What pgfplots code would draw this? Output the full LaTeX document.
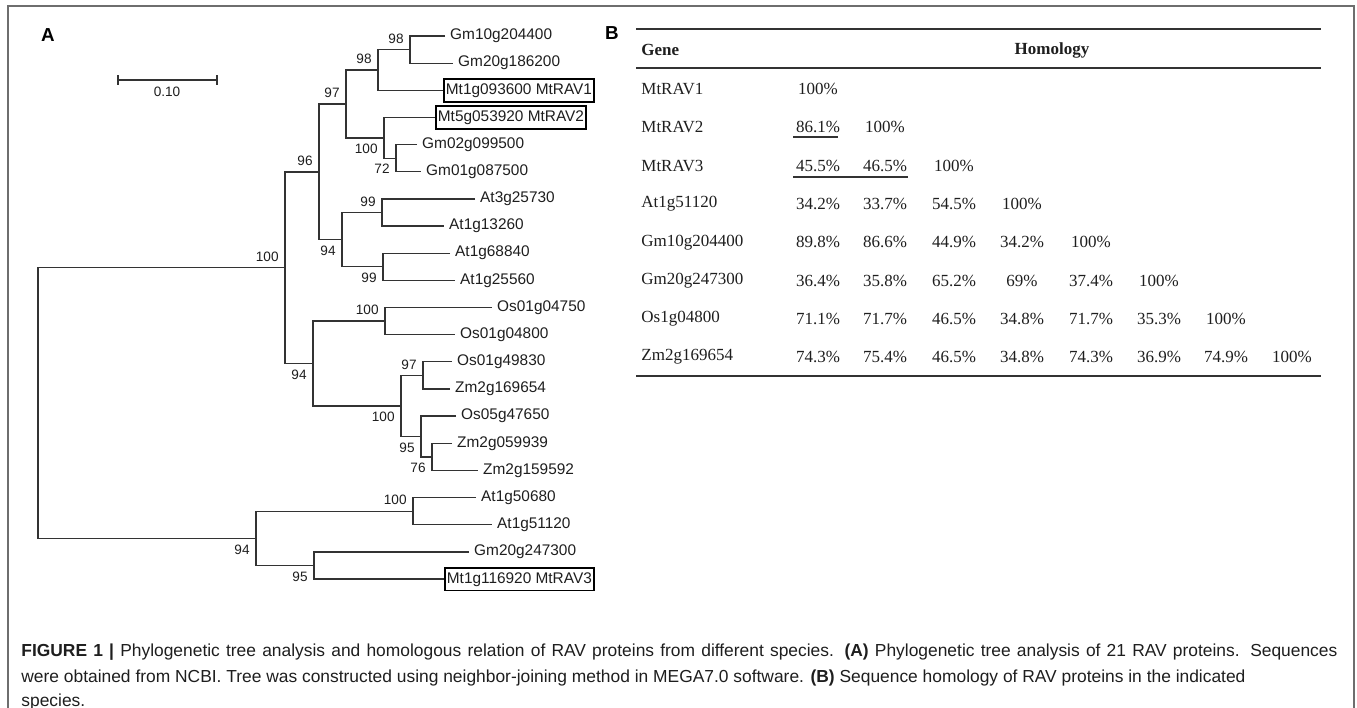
\documentclass[border=0pt]{standalone}
\usepackage{pgfplots}
\pgfplotsset{compat=1.18}
\usepackage{fontspec}
\setmainfont{Liberation Sans}
\newfontfamily\tabfont{Liberation Serif}
\definecolor{treeclr}{HTML}{333333}
\definecolor{txt}{HTML}{1E1E1E}
\definecolor{frameclr}{HTML}{6E6E6E}
\newcommand{\leaffont}{\fontsize{7.7}{9}\selectfont}
\newcommand{\bootfont}{\fontsize{6.8}{8}\selectfont}
\newcommand{\tfont}{\tabfont\fontsize{8.5}{10}\selectfont}
\newcommand{\capfont}{\fontsize{8.7}{10}\selectfont}
\begin{document}
\begin{tikzpicture}
\begin{axis}[
  width=678.5pt, height=354pt, scale only axis,
  xmin=0, xmax=1357, ymin=0, ymax=708, y dir=reverse,
  hide axis, clip=false,
  tree/.style={draw=treeclr, line width=0.65pt, mark=none},
  labels/.style={draw=none, mark=none, nodes near coords, point meta=explicit symbolic},
]
% ---------- frame ----------
\addplot[draw=frameclr, line width=0.7pt, mark=none] coordinates {(8,708) (8,6) (1354,6) (1354,708)};
% ---------- tree brackets ----------
\addplot[tree] coordinates {(285,267.8) (38,267.8) (38,538.4) (256,538.4)};
\addplot[tree] coordinates {(319,171.9) (285,171.9) (285,363.6) (313,363.6)};
\addplot[tree] coordinates {(346,104) (319,104) (319,239.7) (342,239.7)};
\addplot[tree] coordinates {(378,70) (346,70) (346,137.9) (384,137.9)};
\addplot[tree] coordinates {(410,49.6) (378,49.6) (378,90.3) (443,90.3)};
\addplot[tree] coordinates {(445,36) (410,36) (410,63.2) (453,63.2)};
\addplot[tree] coordinates {(435,117.5) (384,117.5) (384,158.2) (396,158.2)};
\addplot[tree] coordinates {(417,144.6) (396,144.6) (396,171.8) (421,171.8)};
\addplot[tree] coordinates {(382,212.5) (342,212.5) (342,266.8) (383,266.8)};
\addplot[tree] coordinates {(475,198.9) (382,198.9) (382,226.1) (444,226.1)};
\addplot[tree] coordinates {(450,253.2) (383,253.2) (383,280.4) (455,280.4)};
\addplot[tree] coordinates {(385,321.1) (313,321.1) (313,406) (401,406)};
\addplot[tree] coordinates {(492,307.5) (385,307.5) (385,334.7) (455,334.7)};
\addplot[tree] coordinates {(423,375.4) (401,375.4) (401,436.5) (421,436.5)};
\addplot[tree] coordinates {(452,361.8) (423,361.8) (423,389) (450,389)};
\addplot[tree] coordinates {(456,416.1) (421,416.1) (421,456.9) (432,456.9)};
\addplot[tree] coordinates {(452,443.3) (432,443.3) (432,470.4) (478,470.4)};
\addplot[tree] coordinates {(413,511.2) (256,511.2) (256,565.5) (314,565.5)};
\addplot[tree] coordinates {(476,497.6) (413,497.6) (413,524.7) (492,524.7)};
\addplot[tree] coordinates {(469,551.9) (314,551.9) (314,579) (444,579)};
% ---------- scale bar ----------
\addplot[tree] coordinates {(118,80) (217,80)};
\addplot[tree] coordinates {(118,75) (118,85)};
\addplot[tree] coordinates {(217,75) (217,85)};
\node[text=txt, font=\fontsize{6.8}{8}\selectfont] at (axis cs:167,92) {0.10};
% ---------- leaf labels ----------
\addplot[labels, every node near coord/.append style={anchor=west, inner sep=2.4pt, text=txt, font=\leaffont}]
 coordinates {
 (445,36) [Gm10g204400]
 (453,63.2) [Gm20g186200]
 (417,144.6) [Gm02g099500]
 (421,171.8) [Gm01g087500]
 (475,198.9) [At3g25730]
 (444,226.1) [At1g13260]
 (450,253.2) [At1g68840]
 (455,280.4) [At1g25560]
 (492,307.5) [Os01g04750]
 (455,334.7) [Os01g04800]
 (452,361.8) [Os01g49830]
 (450,389) [Zm2g169654]
 (456,416.1) [Os05g47650]
 (452,443.3) [Zm2g059939]
 (478,470.4) [Zm2g159592]
 (476,497.6) [At1g50680]
 (492,524.7) [At1g51120]
 (469,551.9) [Gm20g247300]
 };
\addplot[labels, every node near coord/.append style={anchor=west, draw=black, line width=0.9pt, inner xsep=1pt, inner ysep=0pt, text height=5.6pt, text depth=1.6pt, minimum height=11.4pt, text=txt, font=\leaffont}]
 coordinates {
 (443,90.3) [Mt1g093600 MtRAV1]
 (435,117.5) [Mt5g053920 MtRAV2]
 (444,579) [Mt1g116920 MtRAV3]
 };
% ---------- bootstrap values ----------
\addplot[labels, every node near coord/.append style={anchor=east, inner sep=0pt, xshift=-3pt, yshift=5.5pt, text=txt, font=\bootfont}]
 coordinates {
 (285,267.8) [100] (319,171.9) [96] (346,104) [97] (378,70) [98] (410,49.6) [98]
 (382,212.5) [99] (385,321.1) [100] (423,375.4) [97] (413,511.2) [100]
 };
\addplot[labels, every node near coord/.append style={anchor=east, inner sep=0pt, xshift=-3pt, yshift=-5.5pt, text=txt, font=\bootfont}]
 coordinates {
 (256,538.4) [94] (313,363.6) [94] (342,239.7) [94] (384,137.9) [100] (396,158.2) [72]
 (383,266.8) [99] (401,406) [100] (421,436.5) [95] (432,456.9) [76] (314,565.5) [95]
 };
% ---------- panel letters ----------
\node[font=\bfseries\fontsize{9.4}{11}\selectfont, text=black] at (axis cs:48,35) {A};
\node[font=\bfseries\fontsize{9.4}{11}\selectfont, text=black] at (axis cs:612,33) {B};
% ---------- table rules ----------
\addplot[draw=treeclr, line width=1.0pt, mark=none] coordinates {(636,29) (1321,29)};
\addplot[draw=treeclr, line width=0.75pt, mark=none] coordinates {(636,68) (1321,68)};
\addplot[draw=treeclr, line width=1.0pt, mark=none] coordinates {(636,376) (1321,376)};
\addplot[draw=treeclr, line width=0.8pt, mark=none] coordinates {(793,137) (838,137)};
\addplot[draw=treeclr, line width=0.8pt, mark=none] coordinates {(793,177) (908,177)};
% ---------- table header ----------
\node[anchor=west, inner sep=0pt, font=\tfont\bfseries, text=txt] at (axis cs:641,50) {Gene};
\node[inner sep=0pt, font=\tfont\bfseries, text=txt] at (axis cs:1052,50) {Homology};
% ---------- gene names ----------
\addplot[labels, every node near coord/.append style={anchor=west, inner sep=0pt, text=txt, font=\tfont}]
 coordinates {
 (641,89) [MtRAV1] (641,127.3) [MtRAV2] (641,165.6) [MtRAV3] (641,203.9) [At1g51120]
 (641,242.2) [Gm10g204400] (641,280.5) [Gm20g247300] (641,318.8) [Os1g04800] (641,357.1) [Zm2g169654]
 };
% ---------- homology values ----------
\addplot[labels, every node near coord/.append style={anchor=center, inner sep=0pt, text=txt, font=\tfont}]
 coordinates {
 (818,89) [100\%]
 (818,127.3) [86.1\%] (885,127.3) [100\%]
 (818,165.6) [45.5\%] (885,165.6) [46.5\%] (954,165.6) [100\%]
 (818,203.9) [34.2\%] (885,203.9) [33.7\%] (954,203.9) [54.5\%] (1022,203.9) [100\%]
 (818,242.2) [89.8\%] (885,242.2) [86.6\%] (954,242.2) [44.9\%] (1022,242.2) [34.2\%] (1091,242.2) [100\%]
 (818,280.5) [36.4\%] (885,280.5) [35.8\%] (954,280.5) [65.2\%] (1022,280.5) [69\%] (1091,280.5) [37.4\%] (1159,280.5) [100\%]
 (818,318.8) [71.1\%] (885,318.8) [71.7\%] (954,318.8) [46.5\%] (1022,318.8) [34.8\%] (1091,318.8) [71.7\%] (1159,318.8) [35.3\%] (1226,318.8) [100\%]
 (818,357.1) [74.3\%] (885,357.1) [75.4\%] (954,357.1) [46.5\%] (1022,357.1) [34.8\%] (1091,357.1) [74.3\%] (1159,357.1) [36.9\%] (1226,357.1) [74.9\%] (1292,357.1) [100\%]
 };
% ---------- caption ----------
\node[anchor=west, inner sep=0pt, text=txt, font=\capfont] at (axis cs:21,652)
 {\makebox[658pt][s]{\textbf{FIGURE 1 |} Phylogenetic tree analysis and homologous relation of RAV proteins from different species. \textbf{(A)} Phylogenetic tree analysis of 21 RAV proteins. Sequences}};
\node[anchor=west, inner sep=0pt, text=txt, font=\capfont] at (axis cs:21,678)
 {were obtained from NCBI. Tree was constructed using neighbor-joining method in MEGA7.0 software. \textbf{(B)} Sequence homology of RAV proteins in the indicated};
\node[anchor=west, inner sep=0pt, text=txt, font=\capfont] at (axis cs:21,702)
 {species.};
\end{axis}
\pgfresetboundingbox
\path (0,0) rectangle (678.5pt,354pt);
\end{tikzpicture}
\end{document}
